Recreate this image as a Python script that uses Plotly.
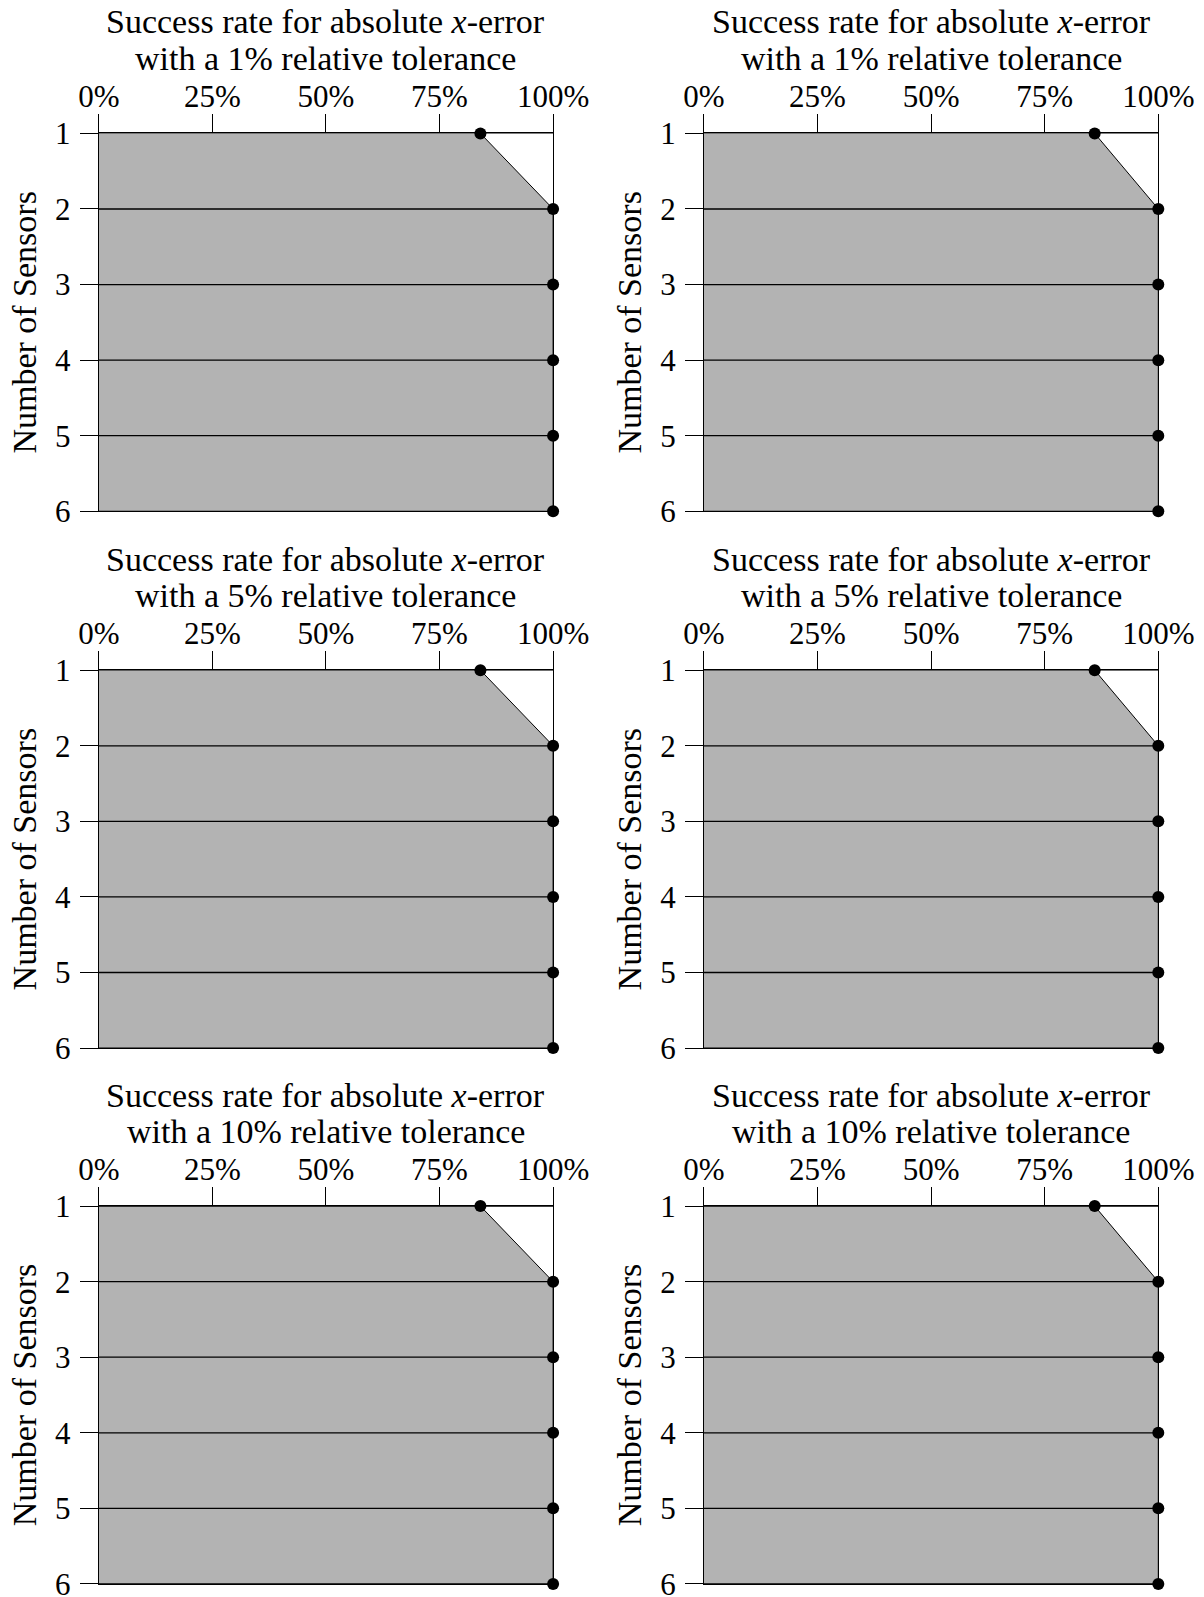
import plotly.graph_objects as go
from plotly.subplots import make_subplots

# ---- data ----
sensors = [1, 2, 3, 4, 5, 6]
tolerances = ["1%", "5%", "10%"]
success_left = [84, 100, 100, 100, 100, 100]
success_right = [86, 100, 100, 100, 100, 100]
x_ticks = [0, 25, 50, 75, 100]
x_tick_labels = ["0%", "25%", "50%", "75%", "100%"]

W, H = 1204, 1597
FONT = "Liberation Serif"
FS_TICK = 31
FS_TEXT = 34
FILL = "#b3b3b3"

fig = make_subplots(rows=3, cols=2)

# pixel geometry of panels
x_dom = [(98.8, 553.1), (703.9, 1158.3)]
y_dom = [(133.4, 511.3), (670.2, 1048.1), (1206.1, 1583.9)]
title_l1 = [21.4, 559.2, 1095.0]
title_l2 = [59.0, 595.9, 1131.7]

for r in range(3):
    for c in range(2):
        vals = success_left if c == 0 else success_right
        # filled area
        fig.add_trace(go.Scatter(
            x=vals, y=sensors, mode="lines", fill="tozerox",
            fillcolor=FILL, line=dict(color="black", width=1),
            showlegend=False, hoverinfo="skip"), row=r + 1, col=c + 1)
        # horizontal grid lines on top of fill
        gx, gy = [], []
        for s in sensors:
            gx += [x_ticks[0], x_ticks[-1], None]
            gy += [s, s, None]
        fig.add_trace(go.Scatter(
            x=gx, y=gy, mode="lines", line=dict(color="black", width=1.3),
            showlegend=False, hoverinfo="skip"), row=r + 1, col=c + 1)
        # markers
        fig.add_trace(go.Scatter(
            x=vals, y=sensors, mode="markers",
            marker=dict(color="black", size=12), cliponaxis=False,
            showlegend=False), row=r + 1, col=c + 1)

        x0, x1 = x_dom[c]
        yt, yb = y_dom[r]
        fig.update_xaxes(
            domain=[x0 / W, x1 / W], range=[0, 100], side="top",
            tickvals=x_ticks, ticktext=x_tick_labels,
            ticks="outside", ticklen=18, tickwidth=1, tickcolor="black",
            ticklabelstandoff=-5, ticklabeloverflow="allow",
            showline=True, mirror=True, linecolor="black", linewidth=1,
            showgrid=False, zeroline=False, automargin=False,
            tickfont=dict(family=FONT, size=FS_TICK, color="black"),
            row=r + 1, col=c + 1)
        fig.update_yaxes(
            domain=[1 - yb / H, 1 - yt / H], range=[6, 1],
            tickvals=sensors, ticks="outside", ticklen=18, tickwidth=1,
            tickcolor="black", showline=True, mirror=True,
            linecolor="black", linewidth=1, showgrid=False, zeroline=False,
            automargin=False, ticklabelstandoff=3, ticklabeloverflow="allow",
            tickfont=dict(family=FONT, size=FS_TICK, color="black"),
            title=dict(text="Number of Sensors", standoff=8,
                       font=dict(family=FONT, size=FS_TEXT, color="black")),
            row=r + 1, col=c + 1)

        cx = (x0 + x1) / 2 / W
        fig.add_annotation(
            xref="paper", yref="paper", x=cx, y=1 - title_l1[r] / H,
            xanchor="center", yanchor="middle", showarrow=False,
            text="Success rate for absolute <i>x</i>-error",
            font=dict(family=FONT, size=FS_TEXT, color="black"))
        fig.add_annotation(
            xref="paper", yref="paper", x=cx, y=1 - title_l2[r] / H,
            xanchor="center", yanchor="middle", showarrow=False,
            text=f"with a {tolerances[r]} relative tolerance",
            font=dict(family=FONT, size=FS_TEXT, color="black"))

fig.update_layout(
    width=W, height=H, margin=dict(l=0, r=0, t=0, b=0),
    plot_bgcolor="white", paper_bgcolor="white",
    font=dict(family=FONT, size=FS_TICK, color="black"))

fig.write_html("out.html")
